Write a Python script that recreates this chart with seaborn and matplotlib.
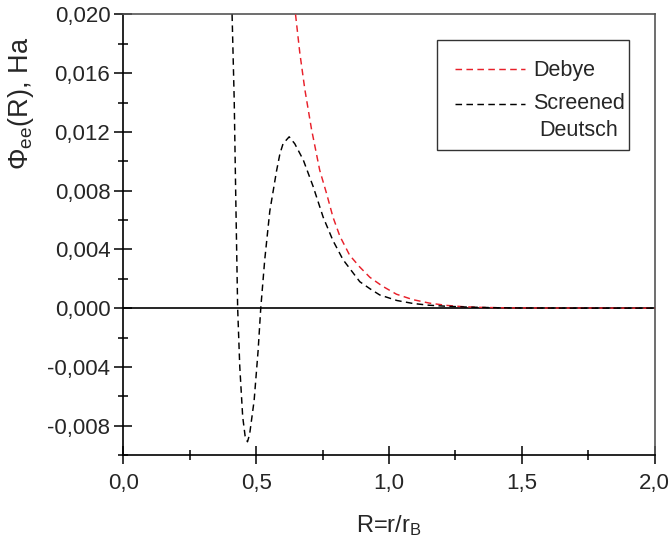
import numpy as np
import pandas as pd
import matplotlib
matplotlib.use("Agg")
import matplotlib.pyplot as plt
from matplotlib.ticker import MultipleLocator, FuncFormatter
from matplotlib.patches import Rectangle
import seaborn as sns

# Debye potential
r_debye = [0.648, 0.664, 0.683, 0.708, 0.739, 0.765, 0.789, 0.815, 0.852, 0.890,
           0.928, 0.975, 1.028, 1.090, 1.153, 1.216, 1.279, 1.350, 1.450, 1.600, 2.000]
phi_debye = [0.0200, 0.0174, 0.0149, 0.0122, 0.0094, 0.0078, 0.0062, 0.0049, 0.0036, 0.0028,
             0.0021, 0.0015, 0.00095, 0.00058, 0.00034, 0.00019, 0.00010, 0.00005, 0.00002, 0.00001, 0.0]

# Screened Deutsch potential
r_sd = [0.409, 0.417, 0.423, 0.430, 0.438, 0.449, 0.458, 0.467, 0.475, 0.492,
        0.507, 0.517, 0.532, 0.551, 0.564, 0.576, 0.589, 0.601, 0.624, 0.645,
        0.677, 0.714, 0.752, 0.789, 0.827, 0.890, 0.930, 0.965, 1.030, 1.090,
        1.150, 1.216, 1.300, 1.400, 1.500, 1.700, 2.000]
phi_sd = [0.0200, 0.0142, 0.0074, 0.0, -0.0040, -0.0074, -0.0087, -0.0091, -0.0086, -0.0063,
          -0.0029, 0.0, 0.0033, 0.0066, 0.0080, 0.0093, 0.0105, 0.0112, 0.01167, 0.0112,
          0.0101, 0.0083, 0.0062, 0.0046, 0.0033, 0.0018, 0.0013, 0.0009, 0.00052, 0.00032,
          0.00020, 0.00013, 0.00007, 0.00003, 0.00001, 0.0, 0.0]

series_labels = ["Debye", "Screened\nDeutsch"]
x_label = "R=r/r$_\\mathregular{B}$"
y_label = "$\\mathregular{\\Phi_{ee}}$(R), Ha"

sns.set_style("ticks")
plt.rcParams["font.family"] = ["Liberation Sans", "DejaVu Sans"]
plt.rcParams["mathtext.default"] = "regular"

fig = plt.figure(figsize=(6.7, 5.41), dpi=100)
ax = fig.add_axes([0.1843, 0.159, 0.7926, 0.8142])

df_d = pd.DataFrame({"R": r_debye, "phi": phi_debye})
df_s = pd.DataFrame({"R": r_sd, "phi": phi_sd})

DASH = [4.5, 3]
ax.axhline(0, color="black", lw=1.2, zorder=1)
sns.lineplot(data=df_d, x="R", y="phi", ax=ax, color="#e8202a", lw=1.05,
             estimator=None, sort=False, label=series_labels[0], zorder=3)
sns.lineplot(data=df_s, x="R", y="phi", ax=ax, color="black", lw=1.05,
             estimator=None, sort=False, label=series_labels[1], zorder=3)
for ln in ax.get_lines()[1:]:
    ln.set_dashes(DASH)

ax.set_xlim(0, 2.0)
ax.set_ylim(-0.010, 0.020)
ax.xaxis.set_major_locator(MultipleLocator(0.5))
ax.xaxis.set_minor_locator(MultipleLocator(0.25))
ax.yaxis.set_major_locator(MultipleLocator(0.004))
ax.yaxis.set_minor_locator(MultipleLocator(0.002))
ax.xaxis.set_major_formatter(FuncFormatter(lambda v, p: f"{v:.1f}".replace(".", ",")))
ax.yaxis.set_major_formatter(FuncFormatter(lambda v, p: f"{v:.3f}".replace(".", ",").replace("−", "-")))
ax.tick_params(which="major", direction="inout", length=13, width=1.1, labelsize=16, color="black")
ax.tick_params(which="minor", direction="inout", length=6.5, width=1.1, color="black")
ax.tick_params(axis="x", pad=6.5)
ax.tick_params(axis="y", pad=3)

for s in ax.spines.values():
    s.set_visible(True)
    s.set_linewidth(1.2)
    s.set_color("black")
for s in ["top", "right"]:
    ax.spines[s].set_color("#555555")

ax.set_xlabel(x_label, fontsize=17, labelpad=14)
ax.set_ylabel(y_label, fontsize=19.5)
ax.yaxis.set_label_coords(-0.165, 0.797)

# legend frame drawn separately (asymmetric padding in the reference)
ax.add_patch(Rectangle((0.590, 0.692), 0.362, 0.250, transform=ax.transAxes,
                       fill=True, facecolor="white", edgecolor="#333333", lw=1.0, zorder=4))
leg = ax.legend(loc="upper left", bbox_to_anchor=(0.624, 0.896), fontsize=15.5,
                frameon=False, handlelength=3.25, handletextpad=0.37,
                borderpad=0, labelspacing=0.55, borderaxespad=0)
leg.set_zorder(5)
for t in leg.get_texts():
    t.set_multialignment("center")
    t.set_linespacing(1.35)
leg_lines = leg.get_lines()
for h in leg_lines:
    h.set_dashes(DASH)
# align the two-line entry's handle with its first line, as in the reference
leg_lines[1].set_ydata(np.asarray(leg_lines[1].get_ydata(), dtype=float) + 9.4)

fig.savefig("out.png", dpi=100)
